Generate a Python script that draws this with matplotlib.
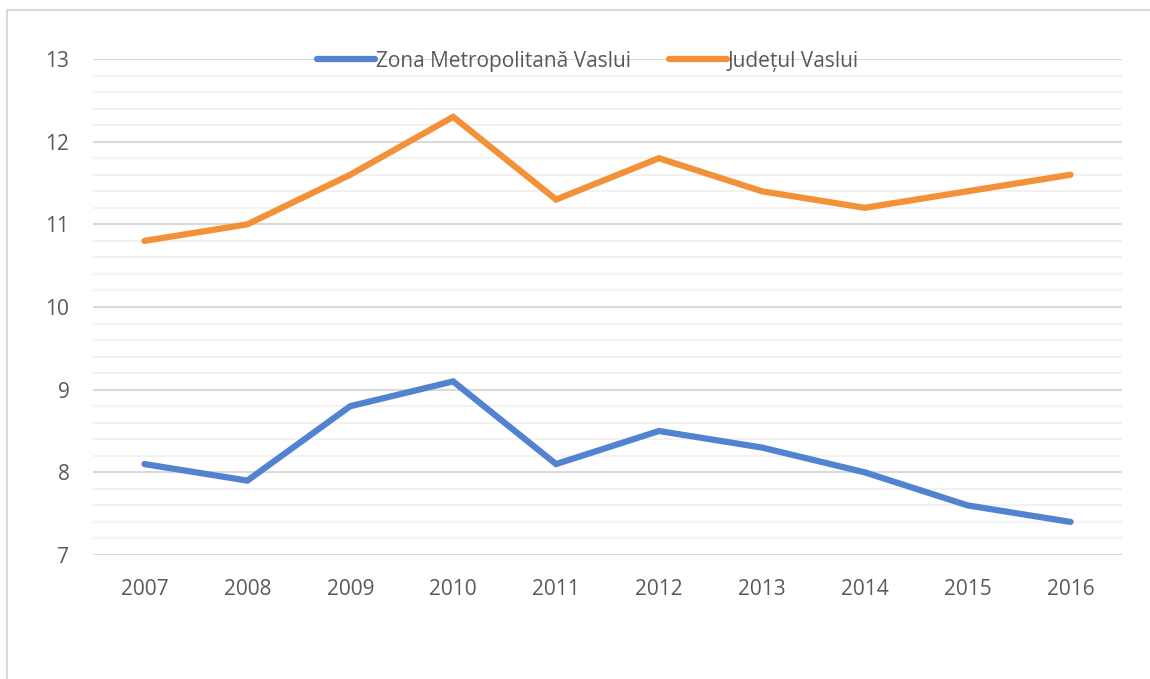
import numpy as np
import matplotlib.pyplot as plt
from matplotlib.patches import Rectangle
from matplotlib.ticker import MultipleLocator

plt.rcParams['font.family'] = ['Open Sans', 'DejaVu Sans']

years = ['2007', '2008', '2009', '2010', '2011', '2012', '2013', '2014', '2015', '2016']
zona_metro = [8.1, 7.9, 8.8, 9.1, 8.1, 8.5, 8.3, 8.0, 7.6, 7.4]
judetul = [10.8, 11.0, 11.6, 12.3, 11.3, 11.8, 11.4, 11.2, 11.4, 11.6]
series_names = ['Zona Metropolitană Vaslui', 'Județul Vaslui']
colors = ['#5183D1', '#F39139']

text_color = '#595959'

fig = plt.figure(figsize=(11.5, 6.79), dpi=100)
ax = fig.add_axes([93 / 1150, 1 - 555 / 679, (1122 - 93) / 1150, (555 - 59) / 679])

# outer chart frame (runs off the right and bottom edges)
fig.patches.append(Rectangle((7 / 1150, -0.1), 1.2, 1.1 - 10 / 679,
                             transform=fig.transFigure, fill=False,
                             edgecolor='#d9d9d9', linewidth=1.5))

x = np.arange(len(years))
for vals, name, col in zip([zona_metro, judetul], series_names, colors):
    ax.plot(x, vals, color=col, linewidth=4.5, solid_capstyle='round',
            solid_joinstyle='miter', label=name, zorder=3)

ax.set_xlim(-0.5, len(years) - 0.5)
ax.set_ylim(7, 13)
ax.set_xticks(x)
ax.set_xticklabels(years)
ax.yaxis.set_major_locator(MultipleLocator(1))
ax.yaxis.set_minor_locator(MultipleLocator(0.2))
ax.grid(axis='y', which='major', color='#d9d9d9', linewidth=1.5, zorder=1)
ax.grid(axis='y', which='minor', color='#f2f2f2', linewidth=1.5, zorder=0)
ax.set_axisbelow(True)
for s in ax.spines.values():
    s.set_visible(False)
ax.tick_params(axis='both', which='both', length=0, labelsize=15, colors=text_color)
ax.tick_params(axis='y', pad=17)
ax.tick_params(axis='x', pad=17)

leg = fig.legend(loc='center', bbox_to_anchor=(588 / 1150, 1 - 61 / 679), ncol=2,
                 frameon=False, fontsize=15, handlelength=2.8, handletextpad=0.05,
                 columnspacing=1.8, borderaxespad=0)
for t in leg.get_texts():
    t.set_color(text_color)
for h in leg.get_lines():
    h.set_solid_capstyle('round')

fig.savefig('out.png', dpi=100)
